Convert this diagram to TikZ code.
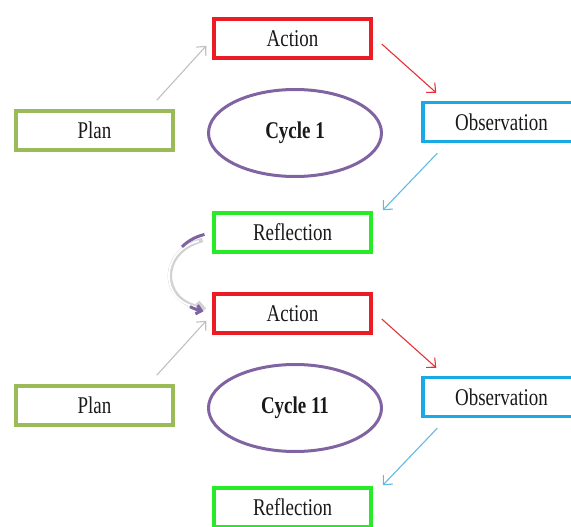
\documentclass[tikz,border=0pt]{standalone}
\usepackage{graphicx}
\usepackage{fontspec}
\setmainfont{Liberation Serif}
\usetikzlibrary{arrows.meta,calc,shapes.geometric}

\definecolor{actred}{RGB}{235,28,36}
\definecolor{plangreen}{RGB}{155,187,89}
\definecolor{obsblue}{RGB}{25,170,230}
\definecolor{refgreen}{RGB}{40,235,40}
\definecolor{cyclepurple}{RGB}{128,100,162}
\definecolor{arrgrey}{RGB}{192,192,192}
\definecolor{arrred}{RGB}{230,50,55}
\definecolor{arrblue}{RGB}{100,185,225}
\definecolor{txt}{RGB}{25,25,25}

% narrow, tall lettering
\newcommand{\lbl}[1]{\raisebox{-1.5pt}{\scalebox{0.79}[1]{#1}}}

\tikzset{
  stagebox/.style={draw=#1, line width=3.5pt, rectangle, minimum width=157pt,
    minimum height=39pt, inner sep=0pt, text=txt,
    font=\fontsize{24}{27}\selectfont},
  cycleoval/.style={draw=cyclepurple, line width=3pt, ellipse, minimum width=173pt,
    minimum height=87pt, inner sep=0pt, text=txt,
    font=\fontsize{24}{27}\selectfont\bfseries},
  flow/.style={draw=#1, line width=1.1pt, -{Straight Barb[length=7pt,width=13pt]}}
}

\begin{document}
\begin{tikzpicture}[x=1pt,y=-1pt]
\useasboundingbox (0,0) rectangle (571,527);

\foreach \k/\dy/\cyc in {1/0/Cycle 1, 2/275/Cycle 11}{
  \begin{scope}[yshift=-\dy pt]
    \node[stagebox=actred]    (a\k) at (292.5,38.5) {\lbl{Action}};
    \node[stagebox=plangreen] (p\k) at (94.5,130.5) {\lbl{Plan}};
    \node[stagebox=obsblue]   (o\k) at (501.5,122)  {\lbl{Observation}};
    \node[stagebox=refgreen]  (r\k) at (292.5,232.5) {\lbl{Reflection}};
    \node[cycleoval]          (c\k) at (295,133) {\lbl{\cyc}};
  \end{scope}
  \draw[flow=arrgrey] ($(p\k.north east)+(-18,-9)$) -- ($(a\k.south west)+(-6,-14)$);
  \draw[flow=arrred]  ($(a\k.east)+(9,5.5)$) -- ($(o\k.north west)+(15,-8)$);
  \draw[flow=arrblue] ($(o\k.south west)+(16,10)$) -- ($(r\k.north east)+(10,-1)$);
}

% curved link from the first reflection to the second action
\draw[gray!35, line width=4.5pt, shorten <=10pt, shorten >=6pt,
      -{Straight Barb[length=6pt,width=10pt]}]
  ([yshift=-5pt]r1.west) .. controls +(-54,14) and +(-52,-8) .. ([yshift=4pt]a2.west);
\draw[white, line width=1.8pt, shorten <=14pt, shorten >=16pt]
  ([yshift=-5pt]r1.west) .. controls +(-54,14) and +(-52,-8) .. ([yshift=4pt]a2.west);
\draw[cyclepurple, line width=3pt, shorten <=8pt, shorten >=9pt,
      dash pattern=on 26pt off 70pt on 40pt,
      -{Straight Barb[length=5pt,width=9pt]}]
  (r1.west) .. controls +(-52,13) and +(-52,-13) .. (a2.west);
\end{tikzpicture}
\end{document}
